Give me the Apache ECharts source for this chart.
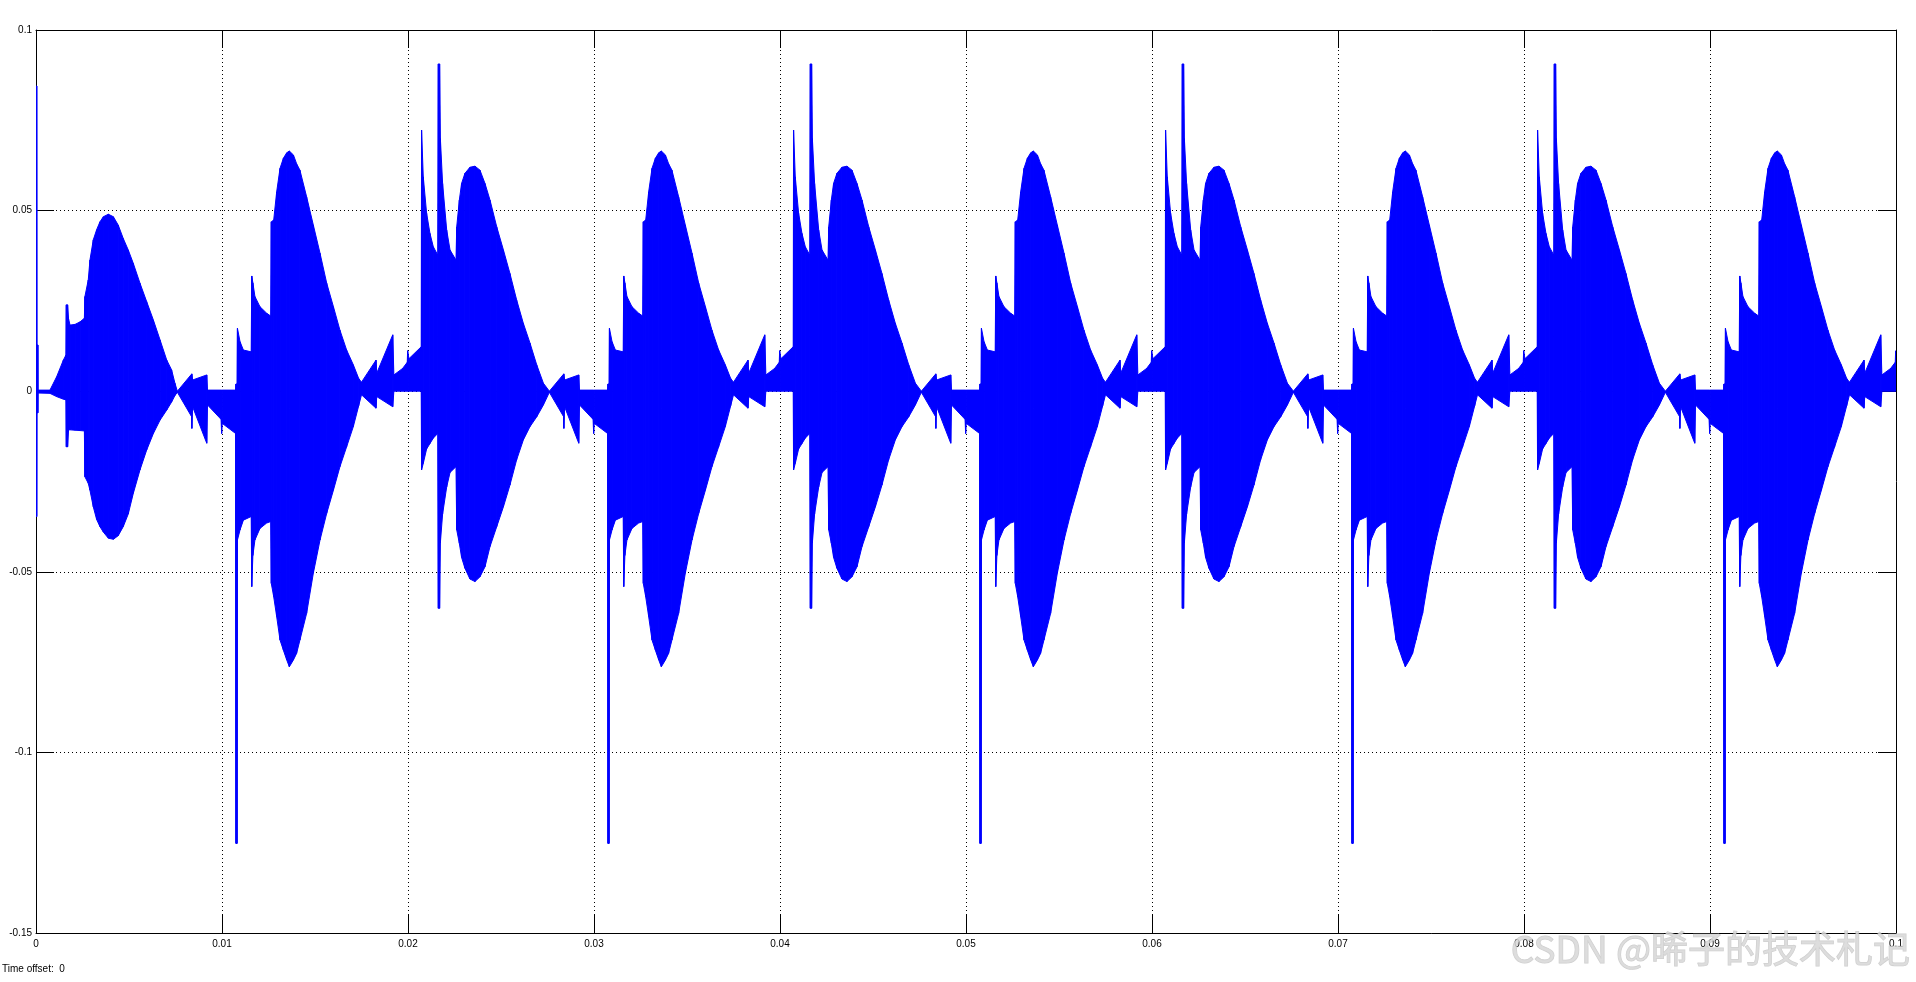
<!DOCTYPE html>
<html>
<head>
<meta charset="utf-8">
<script src="https://cdn.jsdelivr.net/npm/echarts@6/dist/echarts.min.js"></script>
<style>
  html, body { margin: 0; padding: 0; background: #fff; }
  #chart { width: 1916px; height: 982px; }
</style>
</head>
<body>
<div id="chart"></div>
<script>
// ---- tick labels ----
const xTickLabels = ['0', '0.01', '0.02', '0.03', '0.04', '0.05', '0.06', '0.07', '0.08', '0.09', '0.1'];
const yTickLabels = ['-0.15', '-0.1', '-0.05', '0', '0.05', '0.1'];

// ---- start-up transient (t, upper envelope, lower envelope) ----
const transientT  = [0, 0.00004, 0.00005, 0.00010, 0.00011, 0.00075, 0.00111, 0.00147, 0.00161,
  0.00163, 0.00170, 0.00175, 0.00183, 0.00210, 0.00237, 0.00260, 0.00263, 0.00281, 0.00290,
  0.00308, 0.00326, 0.00344, 0.00362, 0.00389, 0.00416, 0.00442, 0.00469, 0.00496, 0.00523,
  0.00559, 0.00595, 0.00631, 0.00667, 0.00703, 0.00729, 0.00747];
const transientHi = [0.0845, 0.0845, 0.0128, 0.0128, 0.0003, 0.0003, 0.0040, 0.0086, 0.0100,
  0.0239, 0.0239, 0.0200, 0.0183, 0.0185, 0.0192, 0.0202, 0.0262, 0.0308, 0.0363,
  0.0419, 0.0447, 0.0469, 0.0483, 0.0490, 0.0483, 0.0460, 0.0423, 0.0391, 0.0354,
  0.0299, 0.0248, 0.0197, 0.0142, 0.0086, 0.0059, 0.0022];
const transientLo = [-0.0347, -0.0347, -0.0060, -0.0060, -0.0005, -0.0006, -0.0015, -0.0022, -0.0024,
  -0.0154, -0.0154, -0.0107, -0.0107, -0.0108, -0.0109, -0.0110, -0.0237, -0.0255, -0.0274,
  -0.0320, -0.0355, -0.0375, -0.0390, -0.0407, -0.0410, -0.0400, -0.0375, -0.0340, -0.0283,
  -0.0218, -0.0163, -0.0117, -0.0080, -0.0052, -0.0030, -0.0012];

// ---- one steady-state cycle (first cycle, absolute time) ----
const cycleT = [0.00760, 0.00836, 0.00838, 0.00842, 0.00918, 0.00922, 0.00995, 0.00998, 0.01001, 0.01073,
  0.01075, 0.01081, 0.01083, 0.01097, 0.01115, 0.01157, 0.01160, 0.01166, 0.01177, 0.01204,
  0.01240, 0.01262, 0.01265, 0.01278, 0.01294, 0.01312, 0.01330, 0.01348, 0.01362, 0.01384,
  0.01401, 0.01419, 0.01455, 0.01491, 0.01527, 0.01563, 0.01599, 0.01634, 0.01670, 0.01706,
  0.01735, 0.01750, 0.01828, 0.01832, 0.01918, 0.01924, 0.01971, 0.01996, 0.01998, 0.02005,
  0.02071, 0.02073, 0.02082, 0.02100, 0.02118, 0.02136, 0.02160, 0.02163, 0.02170, 0.02174,
  0.02186, 0.02208, 0.02226, 0.02258, 0.02262, 0.02276, 0.02288, 0.02306, 0.02333, 0.02360,
  0.02387, 0.02414, 0.02441, 0.02477, 0.02513, 0.02548, 0.02584, 0.02620, 0.02656, 0.02692,
  0.02728];
const cycleHi = [0.0000, 0.0047, 0.0048, 0.0031, 0.0045, 0.0003, 0.0003, 0.0003, 0.0003, 0.0003,
  0.0020, 0.0020, 0.0174, 0.0137, 0.0114, 0.0109, 0.0319, 0.0300, 0.0262, 0.0234,
  0.0216, 0.0208, 0.0469, 0.0474, 0.0552, 0.0617, 0.0645, 0.0660, 0.0665, 0.0654,
  0.0630, 0.0612, 0.0538, 0.0460, 0.0382, 0.0299, 0.0234, 0.0169, 0.0114, 0.0073,
  0.0035, 0.0025, 0.0086, 0.0050, 0.0156, 0.0045, 0.0063, 0.0080, 0.0112, 0.0090,
  0.0123, 0.0723, 0.0594, 0.0493, 0.0437, 0.0400, 0.0377, 0.0906, 0.0906, 0.0700,
  0.0575, 0.0446, 0.0391, 0.0363, 0.0455, 0.0529, 0.0575, 0.0603, 0.0620, 0.0623,
  0.0612, 0.0575, 0.0529, 0.0455, 0.0391, 0.0326, 0.0253, 0.0188, 0.0133, 0.0073,
  0.0022];
const cycleLo = [-0.0003, -0.0070, -0.0103, -0.0043, -0.0144, -0.0038, -0.0078, -0.0117, -0.0089, -0.0117,
  -0.1252, -0.1252, -0.0412, -0.0384, -0.0357, -0.0347, -0.0541, -0.0455, -0.0412, -0.0380,
  -0.0365, -0.0361, -0.0532, -0.0569, -0.0624, -0.0689, -0.0717, -0.0744, -0.0763, -0.0744,
  -0.0726, -0.0689, -0.0615, -0.0504, -0.0412, -0.0338, -0.0274, -0.0209, -0.0154, -0.0098,
  -0.0040, -0.0010, -0.0047, -0.0015, -0.0043, 0.0000, 0.0000, 0.0000, 0.0000, 0.0000,
  0.0000, -0.0218, -0.0200, -0.0160, -0.0145, -0.0130, -0.0117, -0.0601, -0.0601, -0.0420,
  -0.0340, -0.0265, -0.0225, -0.0209, -0.0384, -0.0421, -0.0460, -0.0490, -0.0520, -0.0527,
  -0.0514, -0.0486, -0.0430, -0.0375, -0.0320, -0.0260, -0.0190, -0.0135, -0.0098, -0.0071,
  -0.0038];
// observed shift of each repeated cycle in the picture (cycles repeat every 0.02 s)
const cycleShift = [0, 0.02, 0.04, 0.06, 0.08];

// ---- assemble envelope points ----
const pts = [];
for (let i = 0; i < transientT.length; i++) pts.push([transientT[i], transientHi[i], transientLo[i]]);
cycleShift.forEach(function (s) {
  for (let i = 0; i < cycleT.length; i++) {
    const t = cycleT[i] + s;
    if (t <= 0.10001) pts.push([t, cycleHi[i], cycleLo[i]]);
  }
});
const segs = [];
for (let i = 0; i < pts.length - 1; i++) {
  segs.push([pts[i][0], pts[i][1], pts[i][2], pts[i + 1][0], pts[i + 1][1], pts[i + 1][2]]);
}

const chart = echarts.init(document.getElementById('chart'), null, { renderer: 'canvas' });
const labelFont = { color: '#000', fontSize: 10, fontFamily: 'Liberation Sans, Arial, sans-serif' };
const dotted = { show: true, lineStyle: { color: '#000', width: 1, type: [1, 3] } };
const solidAxis = { show: true, onZero: false, lineStyle: { color: '#000', width: 1 } };
const tickIn = { show: true, inside: true, length: 18, lineStyle: { color: '#000', width: 1 } };

chart.setOption({
  animation: false,
  backgroundColor: '#fff',
  grid: { left: 36, right: 20, top: 30, bottom: 49, containLabel: false },
  xAxis: [
    {
      type: 'value', min: 0, max: 0.1, interval: 0.01, position: 'bottom',
      axisLine: solidAxis, axisTick: tickIn,
      axisLabel: Object.assign({ margin: 6, showMaxLabel: true, showMinLabel: true,
        formatter: function (v) { return xTickLabels[Math.round(v * 100)]; } }, labelFont),
      splitLine: dotted
    },
    {
      type: 'value', min: 0, max: 0.1, interval: 0.01, position: 'top',
      axisLine: solidAxis, axisTick: tickIn, axisLabel: { show: false }, splitLine: { show: false }
    }
  ],
  yAxis: [
    {
      type: 'value', min: -0.15, max: 0.1, interval: 0.05, position: 'left',
      axisLine: solidAxis, axisTick: tickIn,
      axisLabel: Object.assign({ margin: 4, showMaxLabel: true, showMinLabel: true,
        formatter: function (v) { return yTickLabels[Math.round(v * 20) + 3]; } }, labelFont),
      splitLine: dotted
    },
    {
      type: 'value', min: -0.15, max: 0.1, interval: 0.05, position: 'right',
      axisLine: solidAxis, axisTick: tickIn, axisLabel: { show: false }, splitLine: { show: false }
    }
  ],
  series: [{
    type: 'custom',
    xAxisIndex: 0, yAxisIndex: 0,
    clip: true,
    silent: true,
    dimensions: ['t0', 'hi0', 'lo0', 't1', 'hi1', 'lo1'],
    encode: { x: [0, 3], y: [1, 2, 4, 5] },
    data: segs,
    renderItem: function (params, api) {
      const a0 = api.coord([api.value(0), api.value(1)]);
      const a1 = api.coord([api.value(3), api.value(4)]);
      const b1 = api.coord([api.value(3), api.value(5)]);
      const b0 = api.coord([api.value(0), api.value(2)]);
      return {
        type: 'polygon',
        shape: { points: [a0, a1, b1, b0] },
        style: { fill: '#0000ff', stroke: '#0000ff', lineWidth: 1 }
      };
    }
  }],
  graphic: [
    {
      type: 'text', left: 2, top: 964, z: 10,
      style: { text: 'Time offset:  0', font: '10px "Liberation Sans", Arial, sans-serif', fill: '#000' }
    },
    {
      type: 'text', x: 1910, y: 949, z: 10, silent: true,
      style: {
        text: 'CSDN @晞子的技术札记', align: 'right', verticalAlign: 'middle',
        font: '37px "Noto Sans CJK SC", sans-serif',
        fill: 'rgba(215,215,215,0.85)', stroke: 'rgba(160,160,160,0.5)', lineWidth: 1,
        shadowColor: 'rgba(0,0,0,0.25)', shadowBlur: 1, shadowOffsetX: 1, shadowOffsetY: 1
      }
    }
  ]
});
</script>
</body>
</html>
